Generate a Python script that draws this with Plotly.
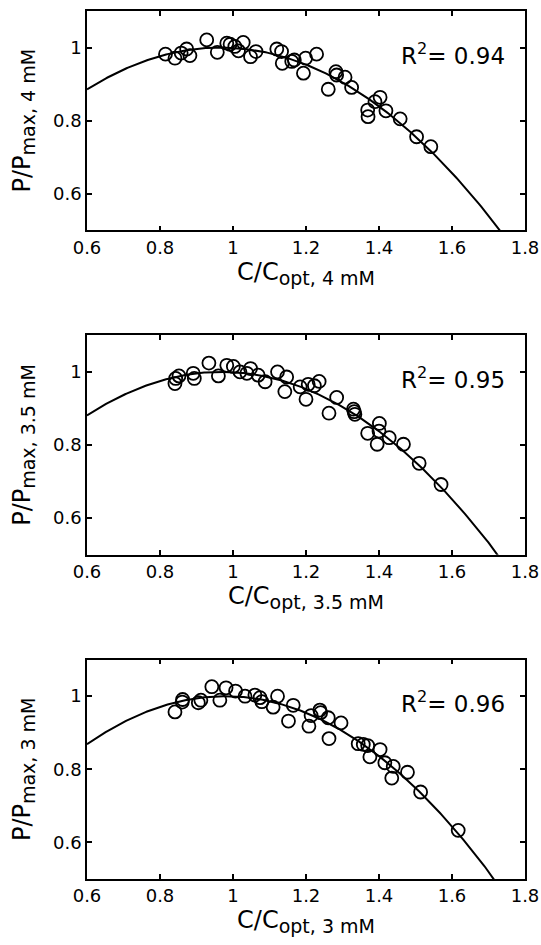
import numpy as np
import plotly.graph_objects as go
from plotly.subplots import make_subplots

# normalised concentration / power, one pair of lists per bath concentration
conc_labels = ["4 mM", "3.5 mM", "3 mM"]
r2_values = ["0.94", "0.95", "0.96"]

x_4mM = [0.815, 0.841, 0.858, 0.873, 0.882, 0.928, 0.957, 0.983, 0.992, 1.005,
         1.015, 1.028, 1.048, 1.063, 1.120, 1.133, 1.135, 1.161, 1.168, 1.193,
         1.199, 1.229, 1.261, 1.282, 1.284, 1.307, 1.325, 1.369, 1.370, 1.389,
         1.403, 1.419, 1.458, 1.503, 1.542]
y_4mM = [0.982, 0.971, 0.985, 0.996, 0.978, 1.021, 0.987, 1.012, 1.009, 1.003,
         0.991, 1.014, 0.975, 0.989, 0.996, 0.989, 0.957, 0.962, 0.966, 0.930,
         0.971, 0.982, 0.886, 0.934, 0.925, 0.919, 0.891, 0.829, 0.811, 0.852,
         0.864, 0.827, 0.805, 0.756, 0.729]

x_35mM = [0.841, 0.843, 0.852, 0.891, 0.894, 0.934, 0.960, 0.983, 1.001, 1.019,
          1.038, 1.048, 1.069, 1.088, 1.122, 1.147, 1.142, 1.184, 1.200, 1.206,
          1.223, 1.236, 1.263, 1.284, 1.330, 1.332, 1.334, 1.369, 1.401, 1.400,
          1.395, 1.428, 1.467, 1.510, 1.570]
y_35mM = [0.968, 0.982, 0.989, 0.996, 0.982, 1.024, 0.989, 1.018, 1.015, 1.000,
          0.996, 1.009, 0.991, 0.973, 1.000, 0.986, 0.946, 0.959, 0.925, 0.966,
          0.962, 0.974, 0.887, 0.930, 0.898, 0.891, 0.884, 0.832, 0.859, 0.838,
          0.802, 0.820, 0.802, 0.750, 0.692]

x_3mM = [0.841, 0.861, 0.862, 0.905, 0.912, 0.942, 0.964, 0.981, 1.007, 1.033,
         1.060, 1.074, 1.079, 1.122, 1.110, 1.152, 1.165, 1.208, 1.214, 1.238,
         1.240, 1.261, 1.263, 1.296, 1.343, 1.357, 1.369, 1.375, 1.403, 1.416,
         1.439, 1.435, 1.478, 1.514, 1.617]
y_3mM = [0.957, 0.984, 0.991, 0.982, 0.989, 1.026, 0.989, 1.023, 1.014, 1.000,
         1.003, 0.996, 0.985, 1.000, 0.970, 0.932, 0.975, 0.918, 0.947, 0.962,
         0.955, 0.941, 0.884, 0.927, 0.870, 0.868, 0.865, 0.834, 0.854, 0.818,
         0.808, 0.776, 0.792, 0.738, 0.633]

# quadratic fits  y = peak - curv * (x - x_peak)^2
fit_peak = [1.0, 1.0, 1.0]
fit_xpeak = [0.966, 0.969, 0.978]
fit_curv = [0.853, 0.874, 0.920]

xs = [x_4mM, x_35mM, x_3mM]
ys = [y_4mM, y_35mM, y_3mM]

FONT = "DejaVu Sans"

fig = make_subplots(rows=3, cols=1, vertical_spacing=0.1209)
xfit = np.linspace(0.6, 1.8, 300)

for i in range(3):
    row = i + 1
    yfit = fit_peak[i] - fit_curv[i] * (xfit - fit_xpeak[i]) ** 2
    fig.add_trace(go.Scatter(
        x=xfit, y=yfit, mode="lines",
        line=dict(color="black", width=2), showlegend=False,
    ), row=row, col=1)
    fig.add_trace(go.Scatter(
        x=xs[i], y=ys[i], mode="markers",
        marker=dict(symbol="circle-open", size=13, color="black",
                    line=dict(width=1.8, color="black")),
        showlegend=False,
    ), row=row, col=1)

    fig.update_xaxes(
        range=[0.6, 1.8], tickvals=[0.6, 0.8, 1.0, 1.2, 1.4, 1.6, 1.8],
        ticktext=["0.6", "0.8", "1", "1.2", "1.4", "1.6", "1.8"],
        title_text="C/C<sub><span style='font-size:19px'>opt, " + conc_labels[i] + "</span></sub>",
        title_standoff=6,
        row=row, col=1)
    fig.update_yaxes(
        range=[0.5, 1.1], tickvals=[0.6, 0.8, 1.0], ticktext=["0.6", "0.8", "1"],
        title_text="P/P<sub><span style='font-size:19px'>max, " + conc_labels[i] + "</span></sub>",
        title_standoff=16,
        row=row, col=1)

    xr = "x" if i == 0 else "x" + str(row)
    yr = "y" if i == 0 else "y" + str(row)
    fig.add_annotation(
        x=1.604, y=0.983, xref=xr, yref=yr,
        text="R<sup>2</sup>= " + r2_values[i], showarrow=False,
        xanchor="center", yanchor="middle",
        font=dict(family=FONT, size=23, color="black"),
    )

fig.update_xaxes(
    showline=True, linecolor="black", linewidth=1.5, mirror="ticks",
    ticks="inside", ticklen=5, tickcolor="black", tickwidth=1.5,
    showgrid=False, zeroline=False, automargin=False,
    tickfont=dict(family=FONT, size=18, color="black"),
    title_font=dict(family=FONT, size=24, color="black"),
)
fig.update_yaxes(
    showline=True, linecolor="black", linewidth=1.5, mirror="ticks",
    ticks="inside", ticklen=5, tickcolor="black", tickwidth=1.5,
    showgrid=False, zeroline=False, automargin=False,
    tickfont=dict(family=FONT, size=18, color="black"),
    title_font=dict(family=FONT, size=24, color="black"),
)

fig.update_layout(
    width=541, height=945,
    margin=dict(l=87, r=16, t=11, b=66),
    plot_bgcolor="white", paper_bgcolor="white",
)

# drop the default page margin so the figure sits at the window's corner
fig.write_html("out.html",
               config={"displayModeBar": False},
               post_script="document.body.style.margin='0';"
                           "document.body.style.overflow='hidden';")
